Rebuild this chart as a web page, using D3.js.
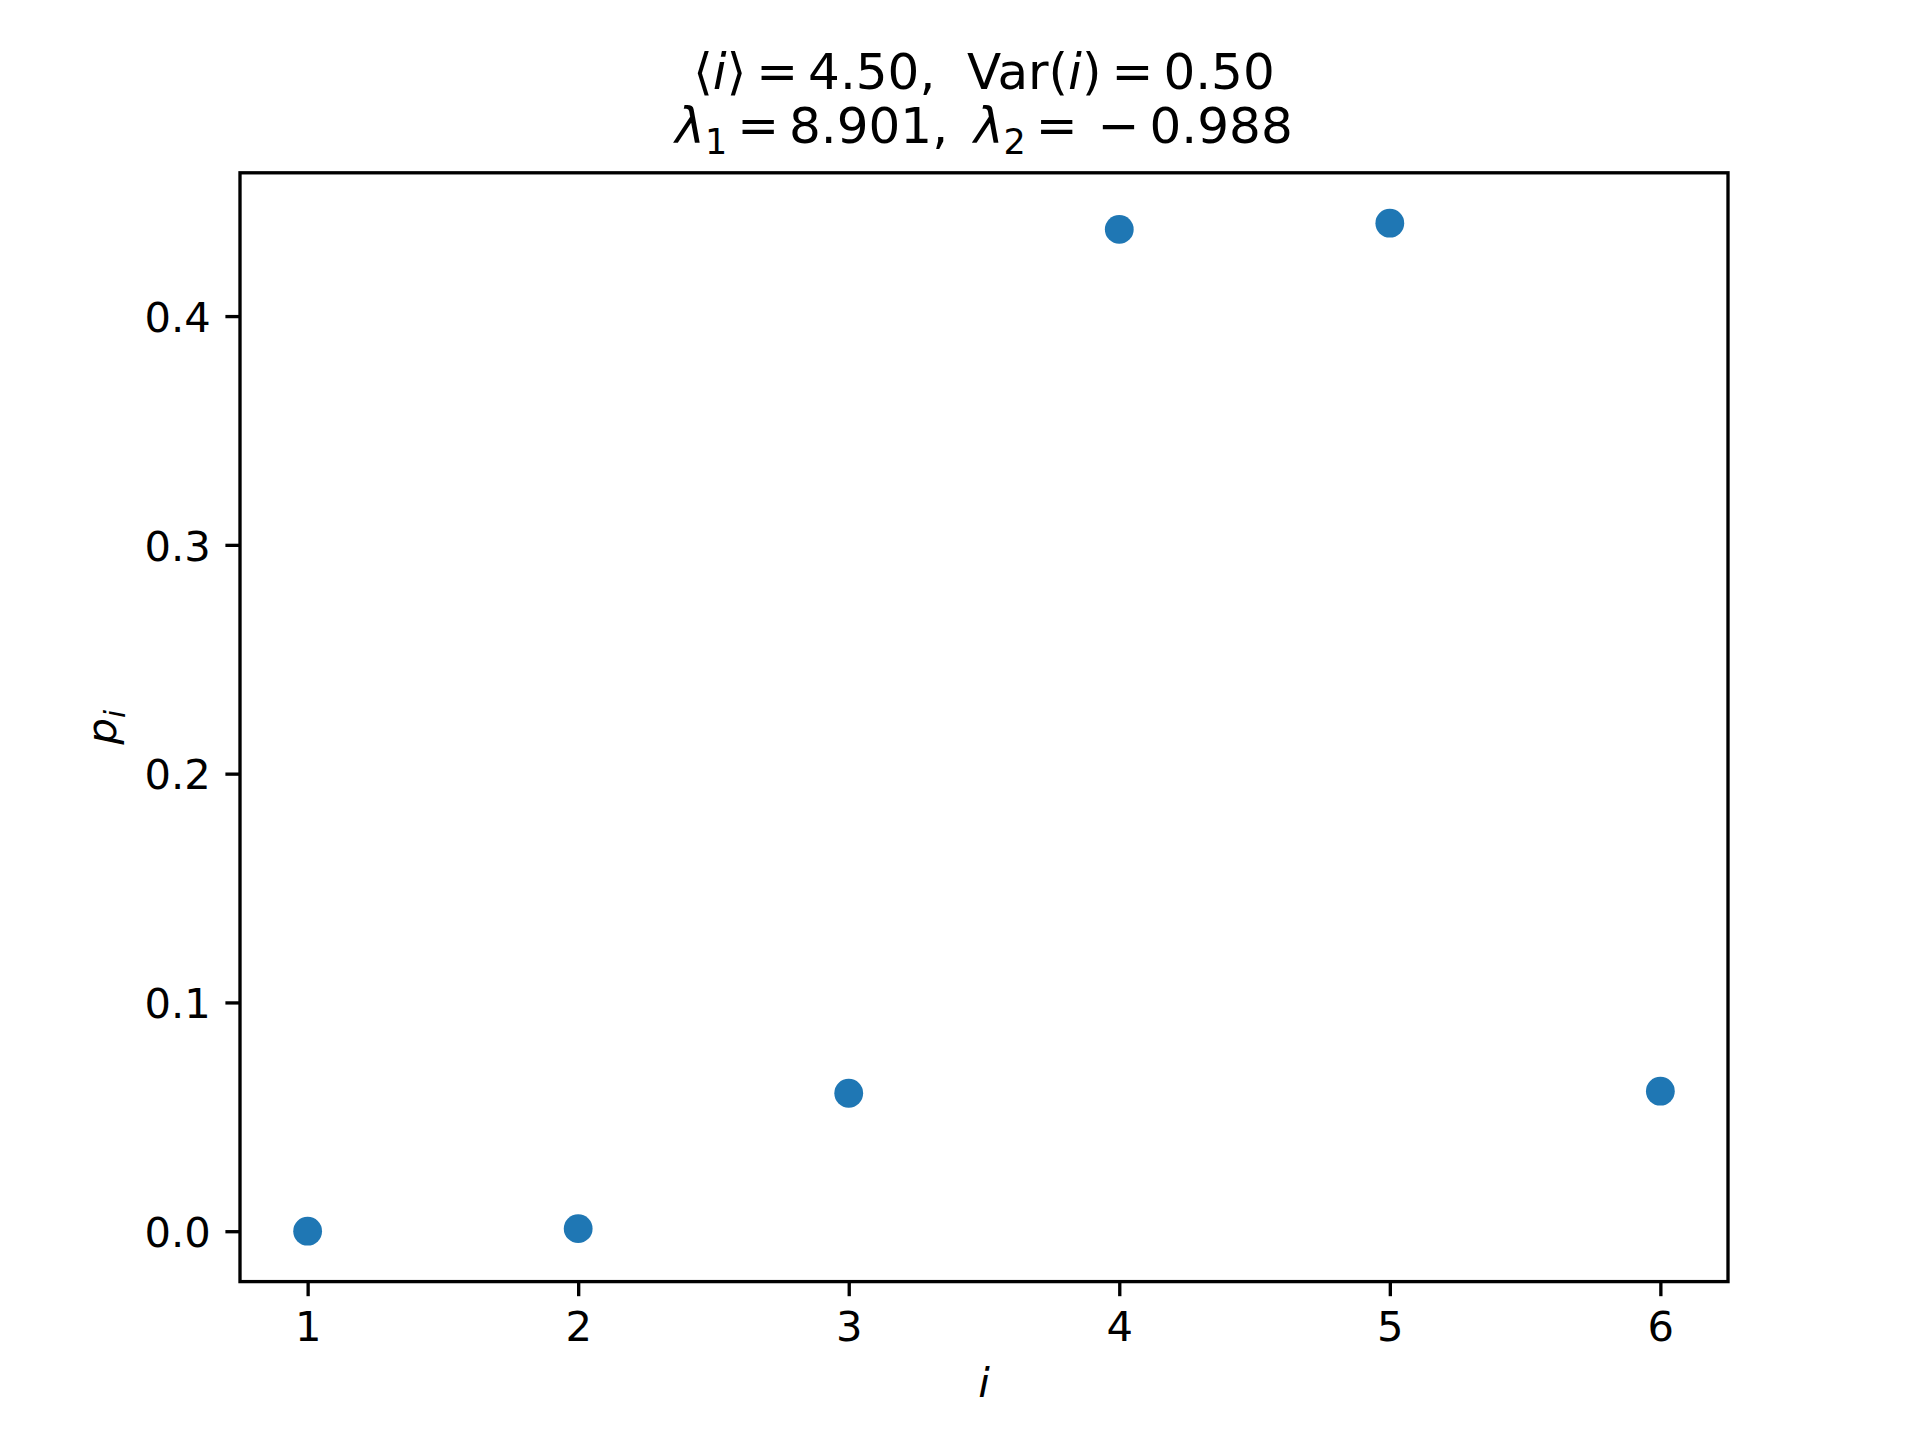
<!DOCTYPE html>
<html>
<head>
<meta charset="utf-8">
<script src="https://cdn.jsdelivr.net/npm/d3@7"></script>
<style>
  html, body { margin: 0; padding: 0; background: #fff; }
  svg { display: block; }
  text { font-family: "DejaVu Sans", sans-serif; fill: #000; }
</style>
</head>
<body>
<svg id="chart" width="1920" height="1440"></svg>
<script>
// ---- data ----
const categories = [1, 2, 3, 4, 5, 6];
const pValues = [0.000003, 0.0011, 0.0603, 0.4379, 0.4406, 0.0612];
const xTicks = [1, 2, 3, 4, 5, 6];
const yTicks = [0.0, 0.1, 0.2, 0.3, 0.4];
const TS = "\u2009"; // thin space (mathtext operator spacing)
const titleLine1 = [["⟨", "n"], ["i", "it"], ["⟩" + TS + "=" + TS + "4.50,  Var(", "n"], ["i", "it"], [")" + TS + "=" + TS + "0.50", "n"]];
const titleLine2 = [["λ", "it"], ["1", "sub"], [TS + "=" + TS + "8.901, " + TS, "n"], ["λ", "it"], ["2", "sub"], [TS + "=" + TS + TS + "−" + TS + "0.988", "n"]];

// ---- layout ----
const L = 240, R = 1728, T = 172.8, B = 1281.6;
const lw = 3.33, tickLen = 14.6, pad = 14.6, fs = 41.67;

const svg = d3.select("#chart");

const x = d3.scaleLinear().domain([0.75, 6.25]).range([L, R]);
const ymin = d3.min(pValues), ymax = d3.max(pValues), m = (ymax - ymin) * 0.05;
const y = d3.scaleLinear().domain([ymin - m, ymax + m]).range([B, T]);

// points
svg.append("g").selectAll("circle")
  .data(categories)
  .join("circle")
  .attr("cx", (d) => x(d))
  .attr("cy", (d, i) => y(pValues[i]))
  .attr("r", 14.4)
  .attr("fill", "#1f77b4");

// axes
const xAxis = d3.axisBottom(x).tickValues(xTicks).tickFormat(d3.format("d"))
  .tickSizeInner(tickLen).tickSizeOuter(0).tickPadding(pad);
const gx = svg.append("g").attr("transform", `translate(0,${B})`).call(xAxis);
gx.select(".domain").remove();
gx.selectAll(".tick line").attr("stroke", "#000").attr("stroke-width", lw);
gx.selectAll(".tick text").attr("font-size", fs).attr("font-family", "DejaVu Sans").attr("fill", "#000")
  .attr("dy", null).attr("y", tickLen + pad + 30.4);

const yAxis = d3.axisLeft(y).tickValues(yTicks).tickFormat(d3.format(".1f"))
  .tickSizeInner(tickLen).tickSizeOuter(0).tickPadding(pad);
const gy = svg.append("g").attr("transform", `translate(${L},0)`).call(yAxis);
gy.select(".domain").remove();
gy.selectAll(".tick line").attr("stroke", "#000").attr("stroke-width", lw);
gy.selectAll(".tick text").attr("font-size", fs).attr("font-family", "DejaVu Sans").attr("fill", "#000")
  .attr("dy", "0.365em");

// frame
svg.append("rect")
  .attr("x", L).attr("y", T).attr("width", R - L).attr("height", B - T)
  .attr("fill", "none").attr("stroke", "#000").attr("stroke-width", lw)
  .attr("stroke-linejoin", "miter");

// axis labels
svg.append("text")
  .attr("x", (L + R) / 2).attr("y", 1397)
  .attr("text-anchor", "middle").attr("font-size", fs).attr("font-style", "italic")
  .text("i");

const yl = svg.append("text")
  .attr("transform", `translate(116,${(T + B) / 2}) rotate(-90)`)
  .attr("text-anchor", "middle").attr("font-size", fs).attr("font-style", "italic");
yl.append("tspan").text("p");
yl.append("tspan").attr("font-size", fs * 0.7).attr("dy", 9).text("i");

// title
function drawLine(parts, baseline) {
  const t = svg.append("text")
    .attr("x", (L + R) / 2).attr("y", baseline)
    .attr("text-anchor", "middle").attr("font-size", 50)
    .style("white-space", "pre");
  let shifted = false;
  parts.forEach(([s, kind]) => {
    const ts = t.append("tspan").text(s);
    if (kind === "it") ts.attr("font-style", "italic");
    if (kind === "sub") { ts.attr("font-size", 35).attr("dy", 11); shifted = true; }
    else if (shifted) { ts.attr("dy", -11); shifted = false; }
  });
}
drawLine(titleLine1, 89);
drawLine(titleLine2, 142.5);
</script>
</body>
</html>
